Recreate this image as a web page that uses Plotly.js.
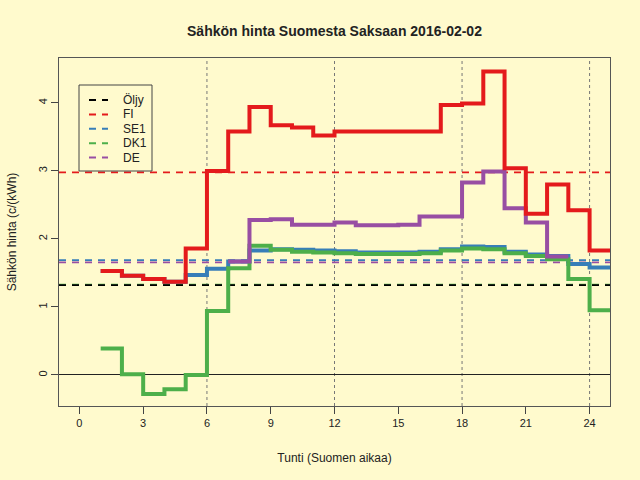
<!DOCTYPE html>
<html>
<head>
<meta charset="utf-8">
<script src="https://cdn.plot.ly/plotly-3.0.1.min.js"></script>
<style>
  html, body { margin: 0; padding: 0; background: #fffacd; }
  #chart { width: 640px; height: 480px; }
</style>
</head>
<body>
<div id="chart"></div>
<script>
// hours 1..24, last value repeated so the step runs to the edge
const hours = [1, 2, 3, 4, 5, 6, 7, 8, 9, 10, 11, 12, 13, 14, 15, 16, 17, 18, 19, 20, 21, 22, 23, 24, 25];
const fi  = [1.53, 1.46, 1.41, 1.37, 1.86, 3.00, 3.58, 3.94, 3.67, 3.64, 3.52, 3.58, 3.58, 3.58, 3.58, 3.58, 3.97, 3.99, 4.46, 3.04, 2.37, 2.80, 2.42, 1.83, 1.83];
const se1 = [1.53, 1.46, 1.41, 1.37, 1.47, 1.56, 1.67, 1.83, 1.85, 1.84, 1.83, 1.82, 1.80, 1.80, 1.80, 1.81, 1.85, 1.89, 1.88, 1.81, 1.77, 1.75, 1.63, 1.58, 1.58];
const dk1 = [0.39, 0.01, -0.28, -0.21, 0.00, 0.94, 1.57, 1.90, 1.84, 1.81, 1.80, 1.79, 1.78, 1.78, 1.78, 1.79, 1.83, 1.86, 1.85, 1.79, 1.75, 1.70, 1.41, 0.95, 0.95];
const de  = [null, null, null, null, null, null, 1.67, 2.28, 2.29, 2.21, 2.21, 2.24, 2.20, 2.20, 2.21, 2.33, 2.33, 2.83, 2.99, 2.45, 2.24, 1.74, 1.74, null, null];

// daily averages (dashed lines)
const avgNames = ['Öljy', 'FI', 'SE1', 'DK1', 'DE'];
const avgValues = [1.32, 2.98, 1.69, 1.33, 1.655];

const xTicks = [0, 3, 6, 9, 12, 15, 18, 21, 24];
const yTicks = [0, 1, 2, 3, 4];
const gridHours = [6, 12, 18, 24];

const colors = {
  'Öljy': '#000000',
  'FI': '#e41a1c',
  'SE1': '#377eb8',
  'DK1': '#4daf4a',
  'DE': '#984ea3'
};

const xRange = [-0.96, 24.96];
const dashStyle = '7px,6px';

// plot area in pixels, used to place the hand drawn legend
const plotLeft = 59, plotTop = 58, plotW = 551, plotH = 348;
function px(x) { return (x - plotLeft) / plotW; }
function py(y) { return (plotTop + plotH - y) / plotH; }

var data = [];

// DK1 average first so the oil line sits on top of it
var avgOrder = [3, 0, 1, 2, 4];
avgOrder.forEach(function (i) {
  data.push({
    x: xRange,
    y: [avgValues[i], avgValues[i]],
    mode: 'lines',
    type: 'scatter',
    name: avgNames[i],
    showlegend: false,
    line: { color: colors[avgNames[i]], width: 1.7, dash: dashStyle },
    hoverinfo: 'skip'
  });
});

function step(y, name) {
  return {
    x: hours,
    y: y,
    mode: 'lines',
    type: 'scatter',
    name: name,
    showlegend: false,
    connectgaps: false,
    line: { color: colors[name], width: 4, shape: 'hv' }
  };
}

data.push(step(se1, 'SE1'));
data.push(step(dk1, 'DK1'));
data.push(step(de, 'DE'));
data.push(step(fi, 'FI'));

var shapes = gridHours.map(function (h) {
  return {
    type: 'line', xref: 'x', yref: 'paper',
    x0: h, x1: h, y0: 0, y1: 1,
    line: { color: '#777777', width: 1, dash: 'dot' },
    layer: 'below'
  };
});

// legend box like R's legend()
shapes.push({
  type: 'rect', xref: 'paper', yref: 'paper',
  x0: px(79), x1: px(152), y0: py(171), y1: py(85),
  line: { color: '#444444', width: 1 },
  fillcolor: 'rgba(0,0,0,0)'
});

var annotations = [];
avgNames.forEach(function (name, i) {
  var rowY = 100 + i * 14.4;
  shapes.push({
    type: 'line', xref: 'paper', yref: 'paper',
    x0: px(89), x1: px(108), y0: py(rowY), y1: py(rowY),
    line: { color: colors[name], width: 2, dash: dashStyle }
  });
  annotations.push({
    xref: 'paper', yref: 'paper',
    x: px(121), y: py(rowY),
    xanchor: 'left', yanchor: 'middle',
    text: name,
    showarrow: false,
    font: { size: 12, color: '#222222' }
  });
});

var layout = {
  width: 640,
  height: 480,
  paper_bgcolor: '#fffacd',
  plot_bgcolor: '#fffacd',
  font: { family: 'Liberation Sans, Arial, sans-serif', size: 12, color: '#222222' },
  margin: { l: 59, r: 30, t: 58, b: 74 },
  showlegend: false,
  title: {
    text: '<b>Sähkön hinta Suomesta Saksaan 2016-02-02</b>',
    font: { size: 14, color: '#222222' },
    x: 0.5,
    xref: 'paper',
    y: 1 - 31 / 480,
    yref: 'container',
    yanchor: 'middle'
  },
  xaxis: {
    range: xRange,
    tickvals: xTicks,
    ticks: 'outside',
    ticklen: 7,
    tickcolor: '#444444',
    tickfont: { size: 11 },
    showgrid: false,
    zeroline: false,
    showline: true,
    mirror: true,
    linecolor: '#555555',
    title: { text: 'Tunti (Suomen aikaa)', font: { size: 12 }, standoff: 25 }
  },
  yaxis: {
    range: [-0.456, 4.66],
    tickvals: yTicks,
    tickangle: -90,
    ticks: 'outside',
    ticklen: 7,
    tickcolor: '#444444',
    tickfont: { size: 11 },
    showgrid: false,
    zeroline: true,
    zerolinecolor: '#222222',
    zerolinewidth: 1,
    showline: true,
    mirror: true,
    linecolor: '#555555',
    title: { text: 'Sähkön hinta (c/(kWh)', font: { size: 12 }, standoff: 17 }
  },
  shapes: shapes,
  annotations: annotations
};

Plotly.newPlot('chart', data, layout, { displayModeBar: false, staticPlot: true });
</script>
</body>
</html>
